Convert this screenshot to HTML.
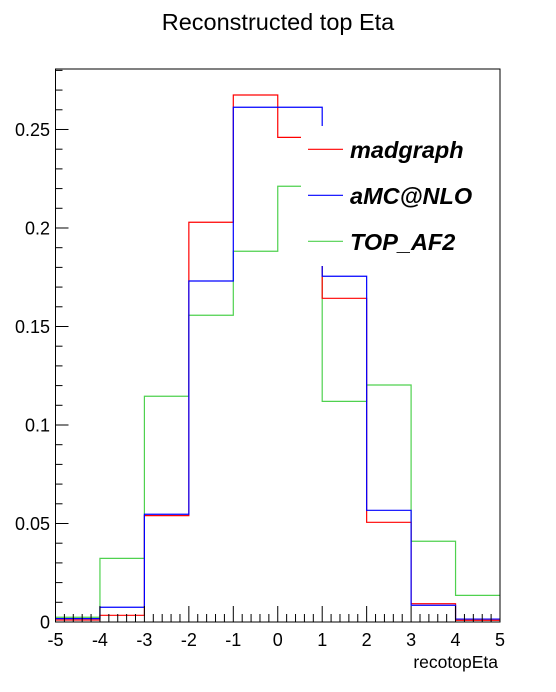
<!DOCTYPE html>
<html><head><meta charset="utf-8"><style>
html,body{margin:0;padding:0;background:#fff;}
svg{display:block;font-family:"Liberation Sans",Arial,sans-serif;}
</style></head><body>
<svg id="chart" width="556" height="692" viewBox="0 0 556 692" xmlns="http://www.w3.org/2000/svg">
<rect width="556" height="692" fill="#fff"/>
<text x="278" y="30" text-anchor="middle" font-size="23.5">Reconstructed top Eta</text>
<g id="plot"></g>
</svg>
<script>
const binEdges = [-5,-4,-3,-2,-1,0,1,2,3,4,5];
const madgraph = [0.0010,0.0034,0.0540,0.2029,0.2675,0.2460,0.1643,0.0506,0.0093,0.0009];
const amcnlo   = [0.0017,0.0075,0.0547,0.1731,0.2613,0.2613,0.1755,0.0567,0.0085,0.0015];
const topAF2   = [0.0024,0.0323,0.1146,0.1557,0.1882,0.2212,0.1120,0.1203,0.0410,0.0135];
const yTicks = [0,0.05,0.1,0.15,0.2,0.25];
const yTickLabels = ["0","0.05","0.1","0.15","0.2","0.25"];
const xTicks = [-5,-4,-3,-2,-1,0,1,2,3,4,5];
const legendLabels = ["madgraph","aMC@NLO","TOP_AF2"];

const NS="http://www.w3.org/2000/svg";
const L=55.5,R=500,T=69,B=622,YMAX=0.2807;
const xs=v=>L+(v+5)/10*(R-L);
const ys=v=>B-v/YMAX*(B-T);
const g=document.getElementById('plot');
function el(tag,attrs){const e=document.createElementNS(NS,tag);for(const k in attrs)e.setAttribute(k,attrs[k]);g.appendChild(e);return e;}

function hist(vals,color,name){
  let d=`M${xs(binEdges[0])},${ys(vals[0])}`;
  for(let i=0;i<vals.length;i++){
    if(i>0)d+=` L${xs(binEdges[i])},${ys(vals[i])}`;
    d+=` L${xs(binEdges[i+1])},${ys(vals[i])}`;
  }
  const p=el('path',{d:d,fill:'none',stroke:color,'stroke-width':1.2});
  
  
}
hist(topAF2,'#4fd14f','series-top-af2');
hist(madgraph,'#ff0000','series-madgraph');
hist(amcnlo,'#0000ff','series-amcnlo');

const fr=el('rect',{x:L,y:T,width:R-L,height:B-T,fill:'none',stroke:'#000','stroke-width':1});



for(let v=0;v<=0.28001;v+=0.01){
  const major=Math.abs(v/0.05-Math.round(v/0.05))<1e-6;
  const t=el('line',{x1:L,x2:L+(major?13:7),y1:ys(v),y2:ys(v),stroke:'#000','stroke-width':1});
  
  
}
yTicks.forEach((v,i)=>{
  const t=el('text',{x:50,y:ys(v)+6.5,'text-anchor':'end','font-size':18});
  t.textContent=yTickLabels[i];
  
  
});
for(let k=0;k<=50;k++){
  const v=-5+k*0.2;const major=k%5===0;
  const t=el('line',{x1:xs(v),x2:xs(v),y1:B,y2:B-(major?16:8),stroke:'#000','stroke-width':1});
  
  
}
xTicks.forEach(v=>{
  const t=el('text',{x:xs(v),y:646,'text-anchor':'middle','font-size':18});
  t.textContent=String(v);
  
  
});
const xt=el('text',{x:R-2,y:668,'text-anchor':'end','font-size':17.5});
xt.textContent='recotopEta';



const lb=el('rect',{x:301,y:126,width:198,height:140,fill:'#fff'});


const lcol=['#ff0000','#0000ff','#4fd14f'];
legendLabels.forEach((s,i)=>{
  const y=149.3+i*46;
  const ln=el('line',{x1:308,x2:343,y1:y,y2:y,stroke:lcol[i],'stroke-width':1.2});
  
  
  const t=el('text',{x:350,y:y+8.5,'font-size':23.5,'font-weight':'bold','font-style':'italic'});
  t.textContent=s;
  
  
});
</script>
</body></html>
